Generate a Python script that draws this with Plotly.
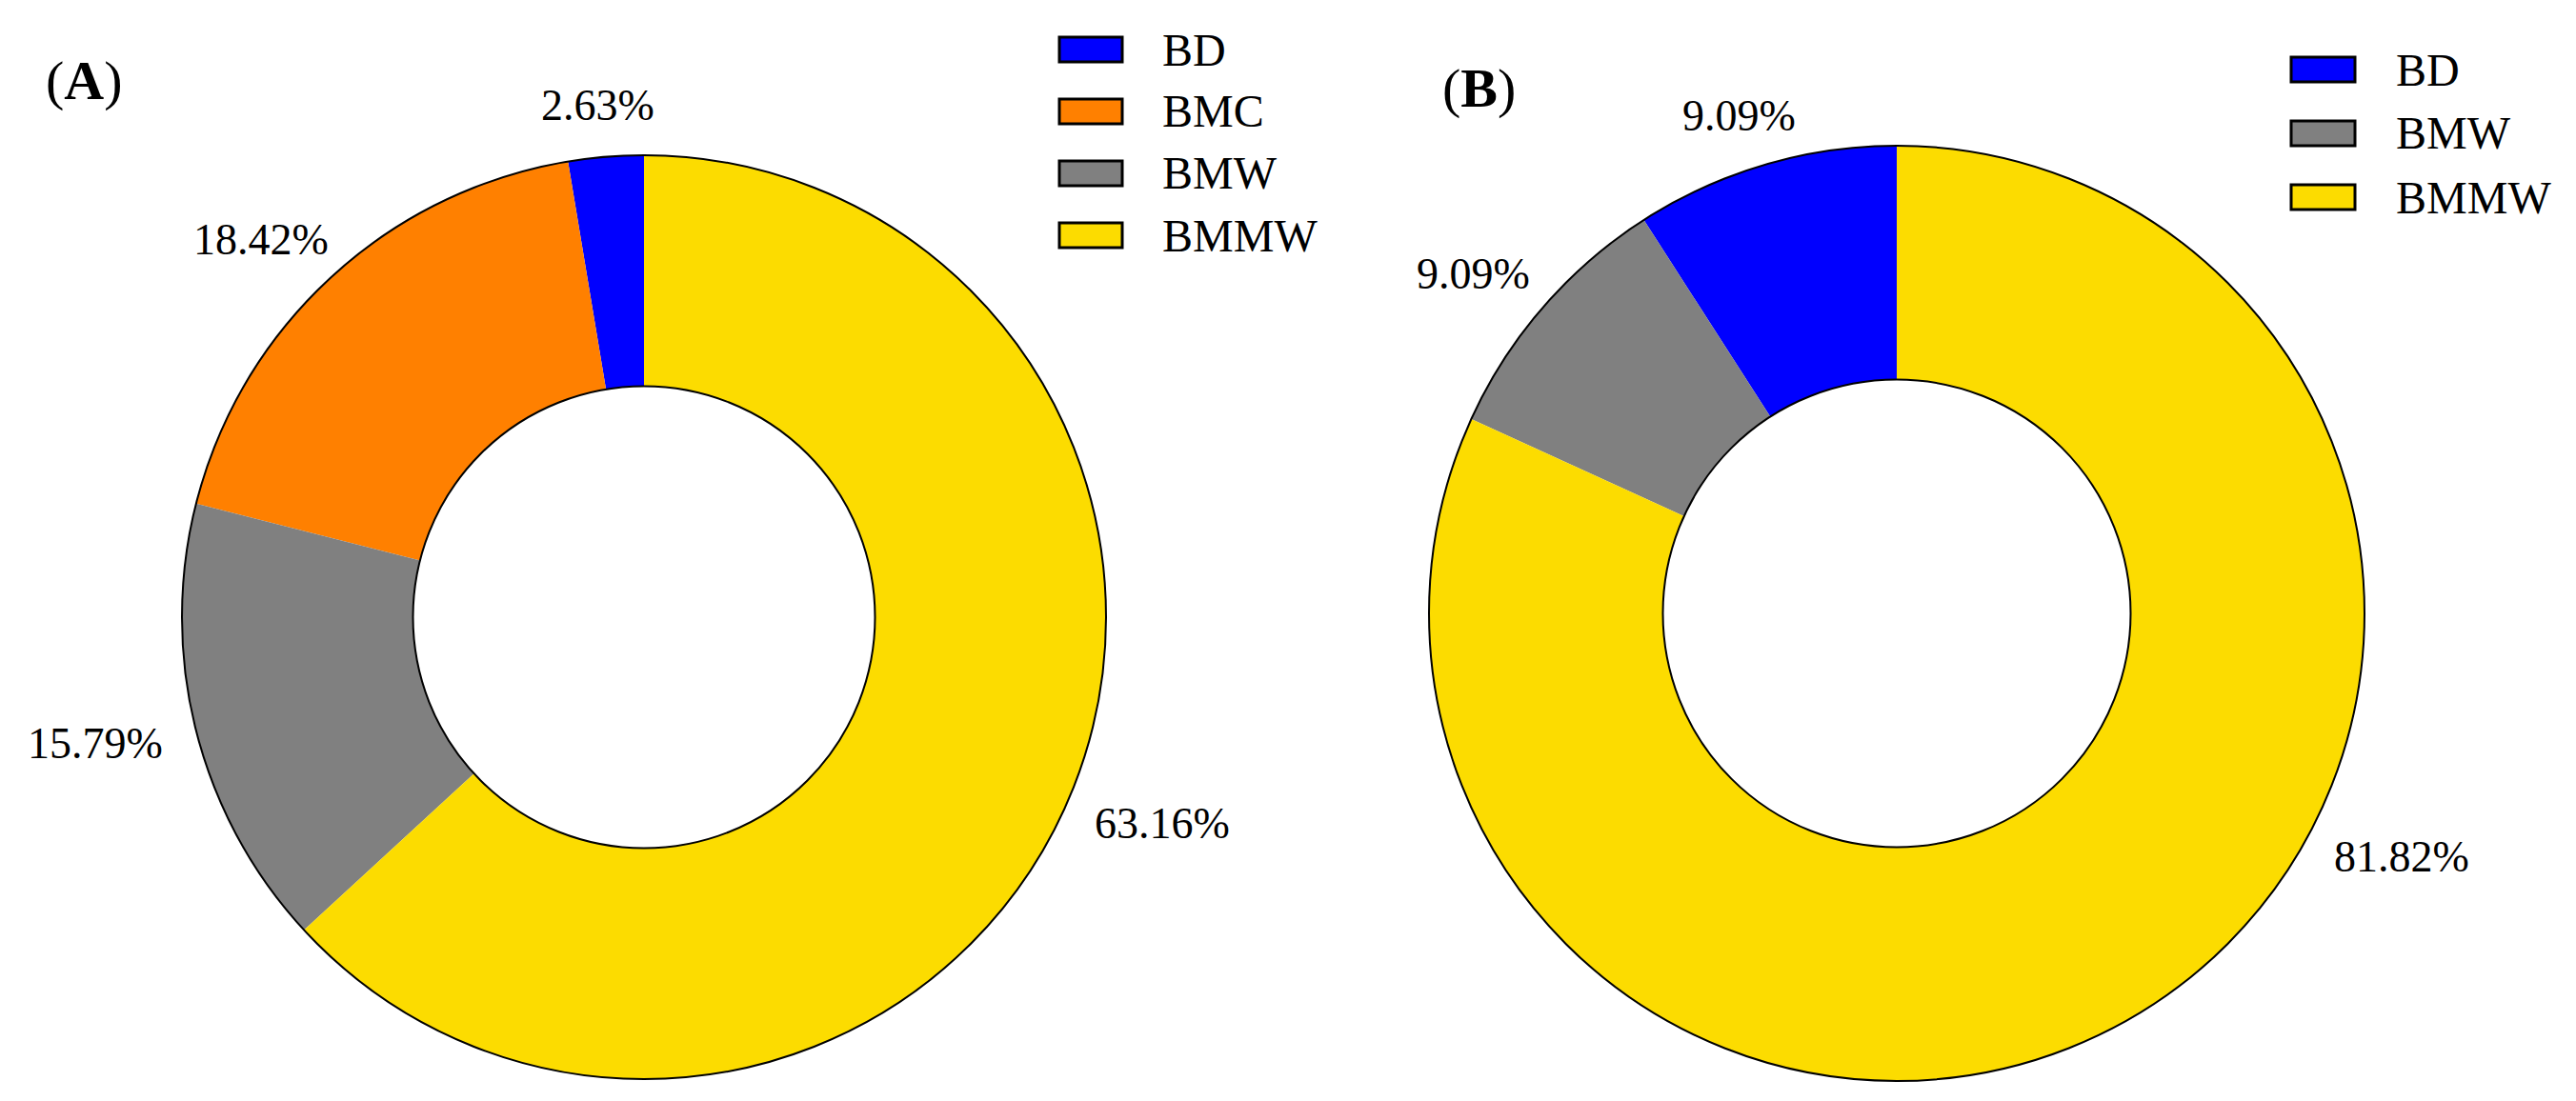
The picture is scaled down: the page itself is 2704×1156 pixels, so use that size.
import math
import plotly.graph_objects as go

# ---- data ----
labels_a = ["BD", "BMC", "BMW", "BMMW"]
values_a = [2.63, 18.42, 15.79, 63.16]
labels_b = ["BD", "BMW", "BMMW"]
values_b = [9.09, 9.09, 81.82]
panel_titles = ["A", "B"]

color_map = {"BD": "#0000FF", "BMC": "#FF8000", "BMW": "#808080", "BMMW": "#FCDC00"}

W, H = 2704, 1156
FONT = "Liberation Serif, Times New Roman, serif"
LABEL_SIZE = 46
# Times-like glyph advance widths (em) used to estimate label extents
GLYPH_W = {".": 0.25, "%": 0.833}


def px(x):
    return x / W


def py(y):
    return 1 - y / H


def domain(cx, cy, r):
    return dict(x=[px(cx - r), px(cx + r)], y=[py(cy + r), py(cy - r)])


fig = go.Figure()
shapes = []
annotations = []


def add_donut(labels, values, cx, cy, r, angle_override=None):
    dom = domain(cx, cy, r)
    total = sum(values)
    first_deg = values[0] / total * 360
    fig.add_trace(go.Pie(
        labels=labels, values=values, hole=0.5, sort=False,
        direction="counterclockwise", rotation=-first_deg,
        marker=dict(colors=[color_map[l] for l in labels], line=dict(width=0)),
        textinfo="none", hovertemplate="%{label}: %{percent:.2%}<extra></extra>",
        domain=dom, showlegend=False,
    ))
    # outline ring (outer and inner circle only)
    fig.add_trace(go.Pie(
        labels=["ring"], values=[1], hole=0.5, sort=False,
        marker=dict(colors=["rgba(0,0,0,0)"], line=dict(color="black", width=2)),
        textinfo="none", hoverinfo="skip", domain=dom, showlegend=False,
    ))
    # percentage labels outside each slice (angles from the data)
    cum = 0.0
    for i, v in enumerate(values):
        mid = -(cum + v / 2) / total * 360  # clockwise-from-top degrees
        cum += v
        if angle_override and angle_override[i] is not None:
            mid = angle_override[i]
        th = math.radians(mid)
        s, c = math.sin(th), math.cos(th)
        txt = f"{v / total * 100:.2f}%"
        wid = sum(GLYPH_W.get(ch, 0.5) for ch in txt) * LABEL_SIZE
        rr = r + 38
        x = cx + rr * s + (wid / 2) * s
        y = cy - rr * c - 16 * c
        annotations.append(dict(
            text=txt, xref="paper", yref="paper", x=px(x), y=py(y),
            xanchor="center", yanchor="middle", showarrow=False,
            font=dict(family=FONT, size=LABEL_SIZE, color="black"),
        ))


add_donut(labels_a, values_a, 676, 648, 485)
add_donut(labels_b, values_b, 1991, 644, 491, angle_override=[None, None, 118])


def add_legend(labels, sw_x0, sw_x1, text_x, y0, dy, sw_h):
    for i, lab in enumerate(labels):
        yc = y0 + i * dy
        shapes.append(dict(
            type="rect", xref="paper", yref="paper",
            x0=px(sw_x0), x1=px(sw_x1), y0=py(yc + sw_h / 2), y1=py(yc - sw_h / 2),
            fillcolor=color_map[lab], line=dict(color="black", width=3),
        ))
        annotations.append(dict(
            text=lab, xref="paper", yref="paper", x=px(text_x), y=py(yc),
            xanchor="left", yanchor="middle", showarrow=False,
            font=dict(family=FONT, size=48, color="black"),
        ))


add_legend(labels_a, 1112, 1178, 1218, 52, 65, 26)
add_legend(labels_b, 2405, 2472, 2513, 73, 67, 26)

for title, (x, y) in zip(panel_titles, [(88, 85), (1552, 92)]):
    annotations.append(dict(
        text=f"(<b>{title}</b>)", xref="paper", yref="paper", x=px(x), y=py(y),
        xanchor="center", yanchor="middle", showarrow=False,
        font=dict(family=FONT, size=58, color="black"),
    ))

fig.update_layout(
    width=W, height=H, margin=dict(l=0, r=0, t=0, b=0),
    paper_bgcolor="white", plot_bgcolor="white",
    shapes=shapes, annotations=annotations, showlegend=False,
)

fig.write_html("out.html", config={"displayModeBar": False},
               post_script="document.body.style.margin='0';document.body.style.overflow='hidden';")
